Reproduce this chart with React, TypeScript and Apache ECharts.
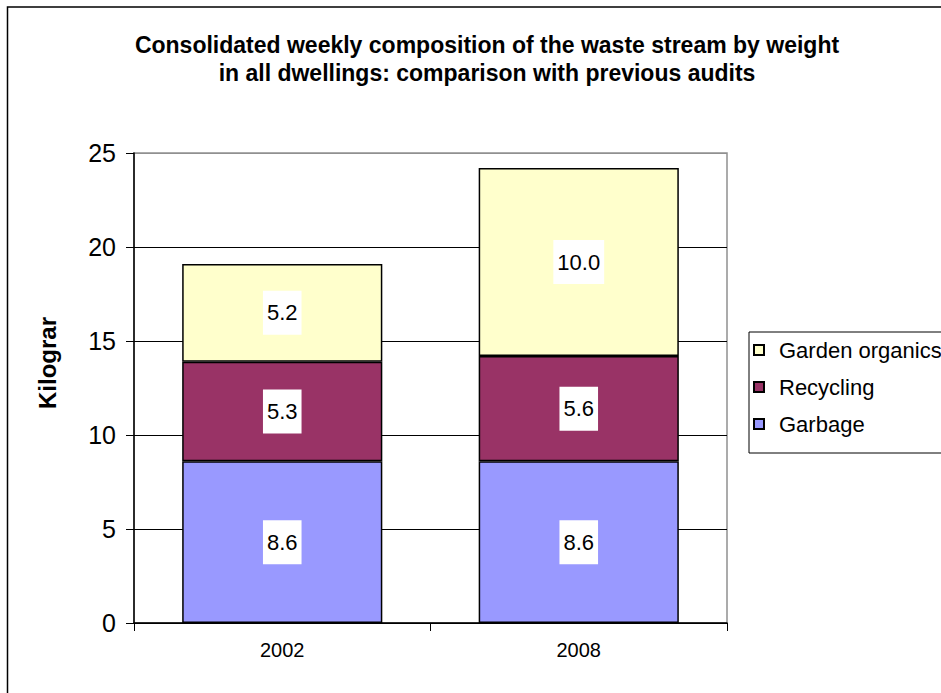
import React, { useEffect, useRef } from "react";
import * as echarts from "echarts";

const categories = ["2002", "2008"];
const garbage = [8.6, 8.6];
const recycling = [5.3, 5.6];
const gardenOrganics = [5.2, 10.0];
const yTicks = [0, 5, 10, 15, 20, 25];

const FONT = "'Liberation Sans', Arial, sans-serif";

export default function App() {
  const ref = useRef<HTMLDivElement>(null);
  useEffect(() => {
    document.body.style.margin = "0";
    const chart = echarts.init(ref.current!, null, { renderer: "svg" });
    const label = {
      show: true,
      position: "inside",
      formatter: (p: any) => Number(p.value).toFixed(1),
      backgroundColor: "#ffffff",
      padding: [11, 4, 11, 4],
      color: "#000",
      fontSize: 22,
      fontFamily: FONT,
    };
    const mk = (name: string, data: number[], color: string) => ({
      name,
      type: "bar",
      stack: "total",
      data,
      barWidth: "67.5%",
      itemStyle: { color, borderColor: "#000", borderWidth: 1.5 },
      label,
    });
    chart.setOption({
      animation: false,
      backgroundColor: "#fff",
      textStyle: { fontFamily: FONT },
      title: {
        text: "Consolidated weekly composition of the waste stream by weight\nin all dwellings: comparison with previous audits",
        left: 482,
        top: 26,
        textAlign: "center",
        textStyle: {
          fontFamily: FONT,
          fontWeight: "bold",
          fontSize: 23,
          lineHeight: 28,
          color: "#000",
        },
      },
      grid: {
        left: 134,
        top: 153,
        right: 214,
        bottom: 70,
        show: true,
        borderColor: "#909090",
        borderWidth: 1.5,
        backgroundColor: "transparent",
      },
      legend: {
        orient: "vertical",
        left: 749,
        top: 332,
        data: ["Garden organics", "Recycling", "Garbage"],
        icon: "rect",
        itemWidth: 10,
        itemHeight: 10,
        itemGap: 15,
        padding: [7, 30, 18, 4],
        borderColor: "#000",
        borderWidth: 1,
        textStyle: {
          fontFamily: FONT,
          fontSize: 22,
          color: "#000",
          padding: [0, 0, 0, 10],
        },
      },
      xAxis: {
        type: "category",
        data: categories,
        axisLine: { lineStyle: { color: "#000", width: 1.5 } },
        axisTick: { show: true, length: 8, lineStyle: { color: "#000" } },
        axisLabel: { fontSize: 20, color: "#000", margin: 17, fontFamily: FONT },
      },
      yAxis: {
        type: "value",
        min: yTicks[0],
        max: yTicks[yTicks.length - 1],
        interval: 5,
        axisLine: { show: true, lineStyle: { color: "#000", width: 1.5 } },
        axisTick: { show: true, length: 8, lineStyle: { color: "#000" } },
        axisLabel: { fontSize: 25, color: "#000", margin: 18, fontFamily: FONT },
        splitLine: {
          show: true,
          lineStyle: {
            color: ["#000", "#000", "#000", "#000", "#000", "#909090"],
            width: 1.2,
          },
        },
      },
      graphic: [
        {
          type: "rect",
          shape: { x: 7.5, y: 7, width: 1000, height: 1000 },
          style: { fill: "none", stroke: "#000", lineWidth: 1.5 },
          silent: true,
        },
        {
          type: "text",
          x: 47,
          y: 363,
          rotation: Math.PI / 2,
          style: {
            text: "Kilograr",
            fontFamily: FONT,
            fontWeight: "bold",
            fontSize: 24,
            fill: "#000",
            textAlign: "center",
            textVerticalAlign: "middle",
          },
        },
      ],
      series: [
        mk("Garbage", garbage, "#9999FF"),
        mk("Recycling", recycling, "#993366"),
        mk("Garden organics", gardenOrganics, "#FFFFCC"),
      ],
    });
    return () => chart.dispose();
  }, []);
  return <div ref={ref} style={{ width: 941, height: 693 }} />;
}
